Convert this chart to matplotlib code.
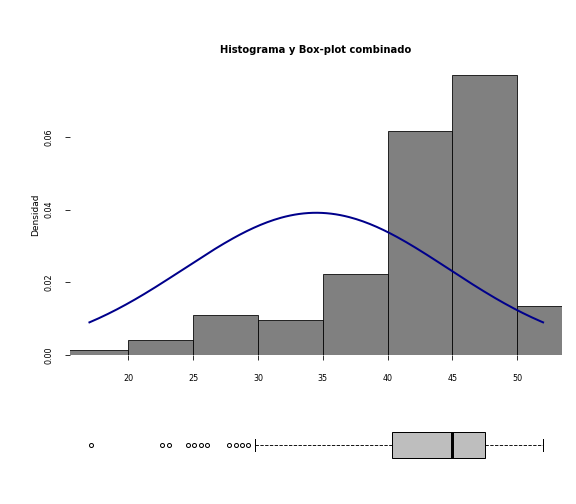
import numpy as np
import matplotlib.pyplot as plt

bin_edges = [15, 20, 25, 30, 35, 40, 45, 50, 55]
densities = [0.0013, 0.0040, 0.0110, 0.0095, 0.0222, 0.0615, 0.0770, 0.0135]
curve_mean, curve_sd = 34.5, 10.2
curve_range = (17, 52)
box_stats = dict(whislo=29.8, q1=40.35, med=45.0, q3=47.5, whishi=52.0)
outliers = [17.15, 22.6, 23.1, 24.6, 25.1, 25.6, 26.1, 27.8, 28.3, 28.8, 29.2]

fig = plt.figure(figsize=(8, 7), dpi=72)
ax = fig.add_axes([70/576, 1-355/504, 492/576, 280/504])
w = np.diff(bin_edges)
ax.bar(bin_edges[:-1], densities, width=w, align='edge', color='#808080', edgecolor='black', linewidth=0.8)
xs = np.linspace(*curve_range, 200)
ys = np.exp(-0.5*((xs-curve_mean)/curve_sd)**2)/(curve_sd*np.sqrt(2*np.pi))
ax.plot(xs, ys, color='#00008B', lw=2)
ax.set_xlim(15.5, 53.46)
ax.set_ylim(0, 0.077)
for s in ['top', 'right', 'left', 'bottom']:
    ax.spines[s].set_visible(False)
ax.set_xticks([20, 25, 30, 35, 40, 45, 50])
ax.set_yticks([0, 0.02, 0.04, 0.06])
ax.set_yticklabels(['0.00', '0.02', '0.04', '0.06'], rotation=90, va='center')
ax.tick_params(labelsize=8, length=5, pad=12)
ax.tick_params(axis='x', pad=14)
ax.set_ylabel('Densidad', fontsize=9)
ax.set_title('Histograma y Box-plot combinado', fontsize=10, fontweight='bold', pad=22)

bx = fig.add_axes([70/576, 1-470/504, 492/576, 50/504])
st = dict(box_stats, fliers=outliers)
bx.bxp([st], vert=False, widths=0.52, patch_artist=True, showcaps=True,
       boxprops=dict(facecolor='#BEBEBE', edgecolor='black'),
       medianprops=dict(color='black', lw=3),
       whiskerprops=dict(linestyle='--', color='black', lw=0.9),
       capprops=dict(color='black'), capwidths=0.25,
       flierprops=dict(marker='o', markerfacecolor='none', markeredgecolor='black', markersize=4))
bx.set_xlim(15.5, 53.46)
bx.set_ylim(0.5, 1.5)
bx.axis('off')
fig.savefig('out.png', dpi=72)
